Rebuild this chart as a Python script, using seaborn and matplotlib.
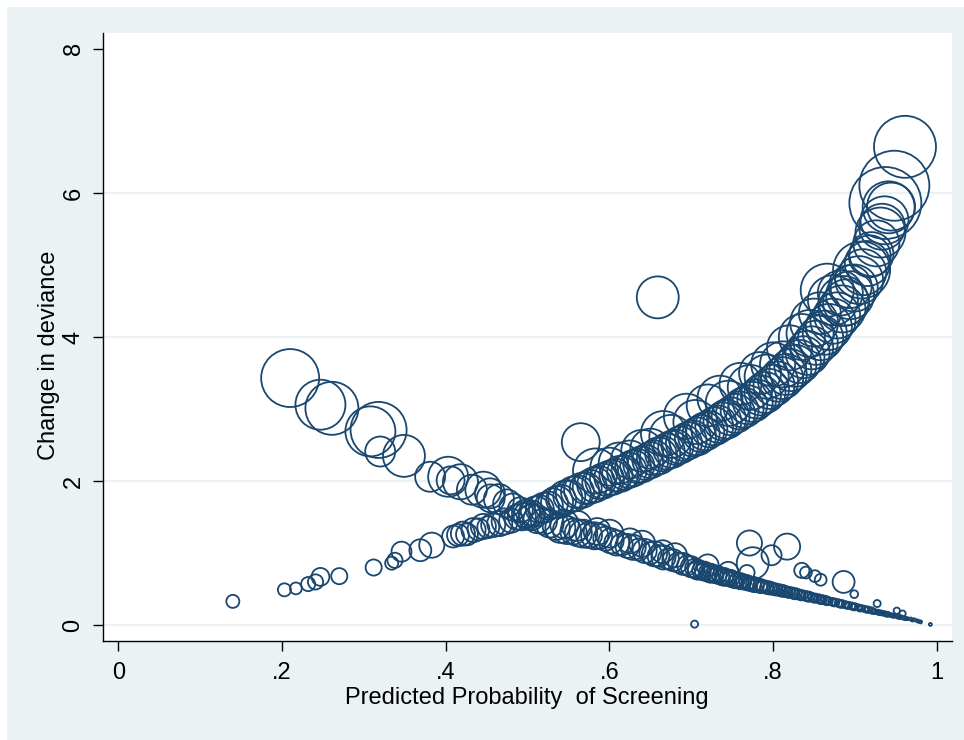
import matplotlib
matplotlib.use("Agg")
import matplotlib.pyplot as plt
from matplotlib.patches import Rectangle
import pandas as pd
import seaborn as sns

# Change in deviance vs predicted probability, marker area ~ influence weight

# screened (deviance falls as p rises)
scr_p = [0.210, 0.247, 0.261, 0.308, 0.318, 0.320, 0.349, 0.381, 0.403, 0.406,
         0.418, 0.432, 0.446, 0.454, 0.455, 0.465, 0.475, 0.482, 0.491, 0.498,
         0.505, 0.512, 0.520, 0.527, 0.535, 0.540, 0.548, 0.556, 0.562, 0.568,
         0.575, 0.582, 0.588, 0.595, 0.602, 0.609, 0.615, 0.622, 0.629, 0.636,
         0.643, 0.650, 0.655, 0.660, 0.666, 0.672, 0.678, 0.684, 0.690, 0.695, 0.700,
         0.704, 0.708, 0.712, 0.716, 0.720, 0.724, 0.728, 0.732, 0.736, 0.740,
         0.744, 0.748, 0.752, 0.756, 0.760, 0.764, 0.768, 0.772, 0.776, 0.780,
         0.784, 0.788, 0.792, 0.796, 0.800, 0.804, 0.808, 0.812, 0.816, 0.820,
         0.824, 0.828, 0.832, 0.836, 0.840, 0.844, 0.848, 0.852, 0.856, 0.860,
         0.864, 0.868, 0.872, 0.876, 0.880, 0.884, 0.888, 0.892, 0.896, 0.900,
         0.904, 0.908, 0.912, 0.916, 0.920, 0.924, 0.928, 0.932, 0.936, 0.940,
         0.944, 0.948, 0.952, 0.956, 0.960, 0.964, 0.968, 0.972, 0.976, 0.980,
         0.706, 0.714, 0.722, 0.730, 0.738, 0.746, 0.754, 0.762, 0.770, 0.778,
         0.786, 0.794, 0.802, 0.810, 0.818, 0.826, 0.834, 0.842, 0.850, 0.858,
         0.866, 0.874, 0.882, 0.890, 0.898, 0.906, 0.914, 0.922, 0.930, 0.938,
         0.946, 0.954, 0.962, 0.970, 0.978,
         0.560, 0.600, 0.640, 0.680, 0.720, 0.745, 0.545, 0.585, 0.625, 0.665,
         0.771, 0.775, 0.768, 0.798, 0.817, 0.835, 0.840, 0.851, 0.858, 0.886,
         0.899, 0.927, 0.951, 0.958, 0.992, 0.704]
scr_dd = [3.43, 3.06, 3.01, 2.69, 2.71, 2.41, 2.35, 2.06, 2.06, 2.01,
          1.99, 1.88, 1.88, 1.83, 1.76, 1.75, 1.69, 1.64, 1.60, 1.55,
          1.50, 1.47, 1.44, 1.41, 1.37, 1.35, 1.32, 1.30, 1.28, 1.27,
          1.25, 1.24, 1.23, 1.20, 1.17, 1.14, 1.12, 1.10, 1.08, 1.05,
          1.03, 1.00, 0.99, 0.96, 0.94, 0.92, 0.90, 0.87, 0.85, 0.83, 0.81,
          0.79, 0.77, 0.76, 0.75, 0.73, 0.72, 0.71, 0.70, 0.68, 0.67,
          0.66, 0.65, 0.63, 0.62, 0.61, 0.60, 0.59, 0.575, 0.565, 0.555,
          0.545, 0.535, 0.525, 0.515, 0.505, 0.495, 0.485, 0.475, 0.465, 0.455,
          0.445, 0.435, 0.425, 0.415, 0.405, 0.395, 0.385, 0.375, 0.365, 0.355,
          0.345, 0.335, 0.325, 0.315, 0.305, 0.295, 0.285, 0.275, 0.265, 0.255,
          0.245, 0.235, 0.225, 0.215, 0.205, 0.19, 0.18, 0.17, 0.16, 0.15,
          0.14, 0.13, 0.12, 0.11, 0.10, 0.09, 0.085, 0.075, 0.06, 0.045,
          0.76, 0.74, 0.71, 0.69, 0.66, 0.64, 0.61, 0.59, 0.57, 0.55,
          0.53, 0.51, 0.49, 0.47, 0.45, 0.43, 0.41, 0.39, 0.37, 0.35,
          0.33, 0.31, 0.29, 0.27, 0.25, 0.23, 0.21, 0.19, 0.17, 0.15,
          0.13, 0.11, 0.09, 0.07, 0.05,
          1.38, 1.27, 1.13, 0.97, 0.83, 0.74, 1.40, 1.30, 1.17, 1.02,
          1.14, 0.86, 0.73, 0.97, 1.09, 0.76, 0.73, 0.68, 0.63, 0.60,
          0.43, 0.30, 0.20, 0.16, 0.01, 0.014]
scr_w = [3.36, 2.50, 2.81, 2.50, 3.14, 0.90, 1.76, 0.90, 1.60, 0.78,
         1.23, 0.90, 1.30, 0.90, 0.78, 0.90, 0.78, 0.73, 0.63, 0.78,
         0.68, 0.78, 0.68, 0.78, 0.73, 0.90, 0.78, 0.68, 0.73, 0.78,
         0.68, 0.73, 0.63, 0.58, 0.63, 0.63, 0.48, 0.58, 0.63, 0.48,
         0.58, 0.48, 0.63, 0.48, 0.58, 0.44, 0.48, 0.40, 0.48, 0.40, 0.44,
         0.36, 0.40, 0.32, 0.36, 0.32, 0.36, 0.29, 0.32, 0.29, 0.32,
         0.26, 0.29, 0.26, 0.23, 0.26, 0.23, 0.23, 0.20, 0.23, 0.20,
         0.20, 0.17, 0.17, 0.17, 0.14, 0.14, 0.14, 0.14, 0.12, 0.12,
         0.12, 0.12, 0.10, 0.10, 0.10, 0.10, 0.08, 0.08, 0.08, 0.08,
         0.08, 0.06, 0.06, 0.06, 0.06, 0.06, 0.05, 0.05, 0.05, 0.05,
         0.04, 0.04, 0.04, 0.04, 0.04, 0.025, 0.025, 0.025, 0.025, 0.025,
         0.016, 0.016, 0.016, 0.016, 0.016, 0.009, 0.009, 0.009, 0.009, 0.009,
         0.29, 0.26, 0.26, 0.23, 0.23, 0.20, 0.20, 0.17, 0.17, 0.15,
         0.15, 0.13, 0.12, 0.11, 0.10, 0.10, 0.09, 0.08, 0.07, 0.07,
         0.06, 0.05, 0.05, 0.04, 0.04, 0.035, 0.03, 0.025, 0.02, 0.02,
         0.015, 0.012, 0.01, 0.008, 0.006,
         0.90, 0.78, 0.68, 0.58, 0.48, 0.40, 0.81, 0.72, 0.62, 0.52,
         0.63, 1.02, 0.23, 0.40, 0.68, 0.23, 0.14, 0.14, 0.14, 0.48,
         0.06, 0.05, 0.04, 0.04, 0.009, 0.05]

# not screened (deviance rises with p)
non_p = [0.140, 0.203, 0.217, 0.232, 0.241, 0.247, 0.270, 0.312, 0.334, 0.338,
         0.346, 0.369, 0.383, 0.409, 0.415, 0.421, 0.426, 0.434, 0.440, 0.446,
         0.452, 0.458, 0.466, 0.472, 0.480, 0.487, 0.493,
         0.500, 0.505, 0.510, 0.515, 0.520, 0.526, 0.531, 0.536, 0.541, 0.546,
         0.551, 0.556, 0.561, 0.566, 0.571, 0.576, 0.582, 0.587, 0.592, 0.597,
         0.603, 0.608, 0.613, 0.618, 0.624, 0.629, 0.634, 0.639, 0.644, 0.650,
         0.655, 0.660, 0.665, 0.670, 0.676, 0.681, 0.686, 0.691, 0.696, 0.702,
         0.707, 0.712, 0.717, 0.722, 0.728, 0.733, 0.738, 0.743, 0.748, 0.754,
         0.759, 0.764, 0.769, 0.775, 0.780, 0.785, 0.790, 0.795, 0.801, 0.806,
         0.811, 0.816, 0.821, 0.827, 0.832, 0.837, 0.842, 0.847, 0.852, 0.858,
         0.863, 0.868, 0.873, 0.878, 0.884, 0.889, 0.894, 0.899, 0.905, 0.910,
         0.915, 0.920, 0.926, 0.931, 0.936, 0.941,
         0.565, 0.583, 0.600, 0.625, 0.650, 0.659, 0.666, 0.694, 0.720, 0.735,
         0.760, 0.784, 0.800, 0.820, 0.835, 0.850, 0.857, 0.866, 0.873, 0.882,
         0.886, 0.894, 0.908, 0.918, 0.933, 0.937, 0.944, 0.948, 0.961,
         0.612, 0.640, 0.675, 0.705, 0.745, 0.772, 0.792, 0.812, 0.845]
non_dd = [0.33, 0.49, 0.51, 0.57, 0.60, 0.67, 0.68, 0.80, 0.86, 0.90,
          1.02, 1.04, 1.11, 1.23, 1.25, 1.27, 1.26, 1.32, 1.33, 1.37,
          1.36, 1.39, 1.41, 1.44, 1.45, 1.50, 1.51,
          1.52, 1.55, 1.58, 1.61, 1.63, 1.66, 1.69, 1.71, 1.74, 1.77,
          1.79, 1.82, 1.85, 1.87, 1.90, 1.92, 1.95, 1.98, 2.00, 2.03,
          2.05, 2.08, 2.10, 2.12, 2.15, 2.18, 2.21, 2.23, 2.26, 2.29,
          2.32, 2.35, 2.38, 2.41, 2.44, 2.47, 2.50, 2.53, 2.56, 2.59,
          2.62, 2.66, 2.69, 2.72, 2.76, 2.79, 2.83, 2.86, 2.90, 2.94,
          2.98, 3.02, 3.06, 3.10, 3.14, 3.19, 3.23, 3.28, 3.33, 3.38,
          3.43, 3.48, 3.54, 3.60, 3.66, 3.72, 3.78, 3.85, 3.92, 3.99,
          4.06, 4.14, 4.22, 4.30, 4.39, 4.48, 4.58, 4.68, 4.79, 4.90,
          5.02, 5.15, 5.30, 5.45, 5.62, 5.80,
          2.54, 2.14, 2.20, 2.30, 2.45, 4.55, 2.66, 2.90, 3.05, 3.15,
          3.35, 3.50, 3.62, 3.85, 4.00, 4.20, 4.33, 4.65, 4.51, 4.61,
          4.50, 4.70, 4.93, 5.12, 5.53, 5.86, 5.81, 6.10, 6.64,
          2.25, 2.42, 2.62, 2.82, 3.08, 3.30, 3.45, 3.62, 4.05]
non_w = [0.17, 0.17, 0.14, 0.20, 0.23, 0.32, 0.26, 0.26, 0.17, 0.23,
         0.40, 0.48, 0.63, 0.48, 0.48, 0.58, 0.48, 0.58, 0.48, 0.63,
         0.48, 0.58, 0.63, 0.68, 0.58, 0.63, 0.78,
         0.78, 0.68, 0.90, 0.78, 0.90, 0.78, 0.90, 1.02, 0.90, 1.16,
         1.02, 1.23, 1.09, 1.23, 1.02, 1.16, 1.23, 1.09, 1.23, 1.16,
         1.23, 1.09, 1.30, 1.16, 1.23, 1.30, 1.16, 1.30, 1.23, 1.30,
         1.23, 1.37, 1.23, 1.30, 1.37, 1.23, 1.37, 1.30, 1.37, 1.30,
         1.44, 1.37, 1.44, 1.30, 1.44, 1.37, 1.44, 1.52, 1.44, 1.52,
         1.44, 1.60, 1.52, 1.60, 1.52, 1.60, 1.68, 1.60, 1.68, 1.60,
         1.76, 1.68, 1.76, 1.76, 1.85, 1.76, 1.94, 1.85, 1.94, 2.03,
         1.94, 2.12, 2.03, 2.12, 2.21, 2.12, 2.30, 2.21, 2.30, 2.12,
         2.03, 1.94, 2.12, 2.50, 2.30, 2.70,
         1.44, 2.03, 1.44, 1.44, 1.60, 1.76, 2.03, 2.03, 1.76, 2.03,
         1.76, 1.76, 1.94, 2.03, 2.12, 2.30, 1.76, 2.81, 2.50, 2.03,
         2.50, 1.85, 3.25, 1.76, 2.12, 5.18, 2.30, 4.90, 3.84,
         1.69, 1.76, 1.85, 1.94, 2.03, 2.03, 1.94, 2.12, 2.21]

x_ticks = [0, 0.2, 0.4, 0.6, 0.8, 1]
x_labels = ["0", ".2", ".4", ".6", ".8", "1"]
y_ticks = [0, 2, 4, 6, 8]

df = pd.concat([
    pd.DataFrame({"p": scr_p, "dd": scr_dd, "w": scr_w, "grp": "screened"}),
    pd.DataFrame({"p": non_p, "dd": non_dd, "w": non_w, "grp": "not screened"}),
], ignore_index=True)

sns.set_style("white")
plt.rcParams["font.family"] = ["Liberation Sans", "DejaVu Sans"]
plt.rcParams["text.color"] = "black"
plt.rcParams["axes.labelcolor"] = "black"
plt.rcParams["xtick.color"] = "black"
plt.rcParams["ytick.color"] = "black"

navy = "#1A476F"
bg = "#EAF2F3"

fig = plt.figure(figsize=(9.64, 7.4), dpi=100, facecolor="white")
# light graph region, with the thin white margin at top and left
fig.patches.append(Rectangle((7 / 964, 0), 1 - 7 / 964, 1 - 7 / 740,
                             transform=fig.transFigure, facecolor=bg,
                             linewidth=0, zorder=-10))
ax = fig.add_axes([0.1065, 0.1338, 0.8807, 0.8216])
ax.set_zorder(1)
ax.set_facecolor("white")

wmax = df["w"].max()
sns.scatterplot(data=df, x="p", y="dd", size="w", sizes=(0, 518.4 * wmax),
                size_norm=(0, wmax), facecolor="none", edgecolor=navy,
                linewidth=1.3, legend=False, ax=ax, zorder=3)

for y in [0, 2, 4, 6]:
    ax.axhline(y, color=bg, lw=1.6, zorder=1)

ax.set_xlim(-0.019, 1.018)
ax.set_ylim(-0.22, 8.22)
ax.set_xticks(x_ticks)
ax.set_xticklabels(x_labels)
ax.set_yticks(y_ticks)
ax.tick_params(axis="both", direction="out", length=7, width=1, color="black",
               labelcolor="black", labelsize=17, pad=8, bottom=True, left=True)
ax.tick_params(axis="y", labelrotation=90, pad=6)
for lab in ax.get_yticklabels():
    lab.set_va("center")

for s in ["top", "right"]:
    ax.spines[s].set_visible(False)
for s in ["left", "bottom"]:
    ax.spines[s].set_color("black")
    ax.spines[s].set_linewidth(1)

ax.set_xlabel("Predicted Probability  of Screening", fontsize=17, labelpad=2)
ax.set_ylabel("Change in deviance", fontsize=17)
ax.yaxis.set_label_coords(-0.05, 0.47)

fig.savefig("out.png", dpi=100, facecolor=fig.get_facecolor())
